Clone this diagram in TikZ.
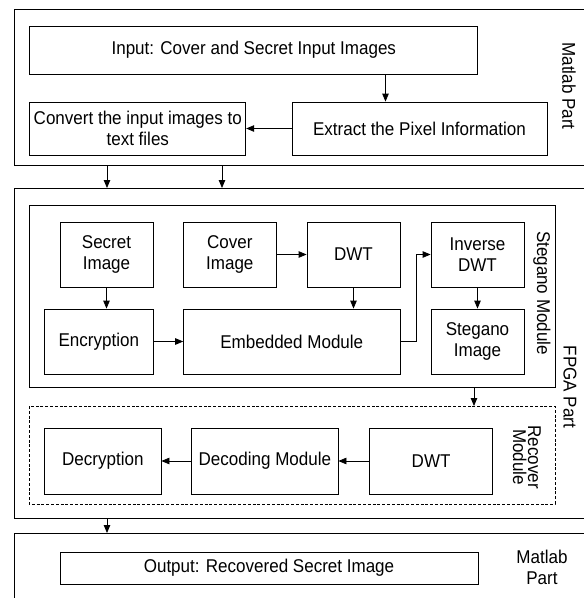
\documentclass[tikz,border=0pt]{standalone}
\usepackage{fontspec}
\setmainfont{Liberation Sans}[FakeStretch=0.92]
\usetikzlibrary{arrows.meta}
\begin{document}
\begin{tikzpicture}[x=1pt,y=-1pt,
  ln/.style={line width=0.8pt},
  blk/.style={draw,line width=0.8pt,align=center,inner sep=1pt,anchor=center,
    font=\fontsize{18.5}{21.5}\selectfont},
  lbl/.style={align=center,rotate=-90,inner sep=0pt,font=\fontsize{18.5}{17}\selectfont},
  arr/.style={line width=0.8pt,-{Triangle[length=8pt,width=6.5pt]}}]
\useasboundingbox (0,0) rectangle (584,598);
% outer frames (open on the right)
\draw[ln] (584,9.5) -- (14.5,9.5) -- (14.5,165) -- (584,165);
\draw[ln] (584,188) -- (14.5,188) -- (14.5,518) -- (584,518);
\draw[ln] (584,533) -- (14.5,533) -- (14.5,598);
% module frames
\draw[ln] (29,205) rectangle (555,387);
\draw[ln,dash pattern=on 3pt off 1.8pt] (29,406) rectangle (555,504);

% top Matlab part
\node[blk,minimum width=448pt,minimum height=48pt] (inp) at (253.8,50) {Input: Cover and Secret Input Images};
\node[blk,minimum width=216pt,minimum height=53pt] (conv) at (137.8,128.5) {Convert the input images to\\text files};
\node[blk,minimum width=255pt,minimum height=53pt] (extr) at (419.5,128.5) {Extract the Pixel Information};
\node[lbl] (mp1) at (569,86) {Matlab Part};

% Stegano module
\node[blk,minimum width=93pt,minimum height=65pt] (secret) at (106.5,254.5) {Secret\\Image};
\node[blk,minimum width=92.4pt,minimum height=65pt] (cover) at (229.8,254.5) {Cover\\Image};
\node[blk,minimum width=93pt,minimum height=65pt] (dwta) at (353.5,254.5) {DWT};
\node[blk,minimum width=93pt,minimum height=65pt] (inv) at (477.5,254.5) {Inverse\\DWT};
\node[blk,minimum width=108.3pt,minimum height=65pt] (enc) at (98.85,341.5) {Encryption};
\node[blk,minimum width=216.4pt,minimum height=65pt] (emb) at (291.8,341.5) {Embedded Module};
\node[blk,minimum width=93pt,minimum height=65pt] (steg) at (477.5,341.5) {Stegano\\Image};
\node[lbl] (sm) at (542,293) {Stegano Module};
\node[lbl] (fp) at (570,387) {FPGA Part};

% Recover module
\node[blk,minimum width=116.3pt,minimum height=66pt] (dec) at (102.85,461) {Decryption};
\node[blk,minimum width=146.2pt,minimum height=66pt] (decod) at (264.9,461) {Decoding Module};
\node[blk,minimum width=123.2pt,minimum height=66pt] (dwtb) at (431.1,461) {DWT};
\node[lbl,font=\fontsize{18.5}{15}\selectfont] (rm) at (527,457) {Recover\\Module};

% bottom Matlab part
\node[blk,minimum width=418pt,minimum height=32pt] (out) at (269,568) {Output: Recovered Secret Image};
\node[align=center,inner sep=0pt,font=\fontsize{18.5}{21}\selectfont] (mp2) at (542,567) {Matlab\\Part};

% helper coordinates
\coordinate (ax1) at (385.5,0);
\coordinate (t1a) at (107,165); \coordinate (t1b) at (107,188);
\coordinate (t2a) at (222,165); \coordinate (t2b) at (222,188);
\coordinate (bend) at (416,0);
\coordinate (s1a) at (474,387); \coordinate (s1b) at (474,406);
\coordinate (b1a) at (107,518); \coordinate (b1b) at (107,533);

% connectors
\draw[arr] (inp.south -| ax1) -- (extr.north -| ax1);
\draw[arr] (extr.west) -- (conv.east);
\draw[arr] (t1a) -- (t1b);
\draw[arr] (t2a) -- (t2b);
\draw[arr] (secret.south) -- (secret.south |- enc.north);
\draw[arr] (cover.east) -- (dwta.west);
\draw[arr] (dwta.south) -- (dwta.south |- emb.north);
\draw[arr] (enc.east) -- (emb.west);
\draw[arr] (emb.east) -- (emb.east -| bend) -- (inv.west -| bend) -- (inv.west);
\draw[arr] (inv.south) -- (steg.north);
\draw[arr] (s1a) -- (s1b);
\draw[arr] (dwtb.west) -- (decod.east);
\draw[arr] (decod.west) -- (dec.east);
\draw[arr] (b1a) -- (b1b);
\end{tikzpicture}
\end{document}
